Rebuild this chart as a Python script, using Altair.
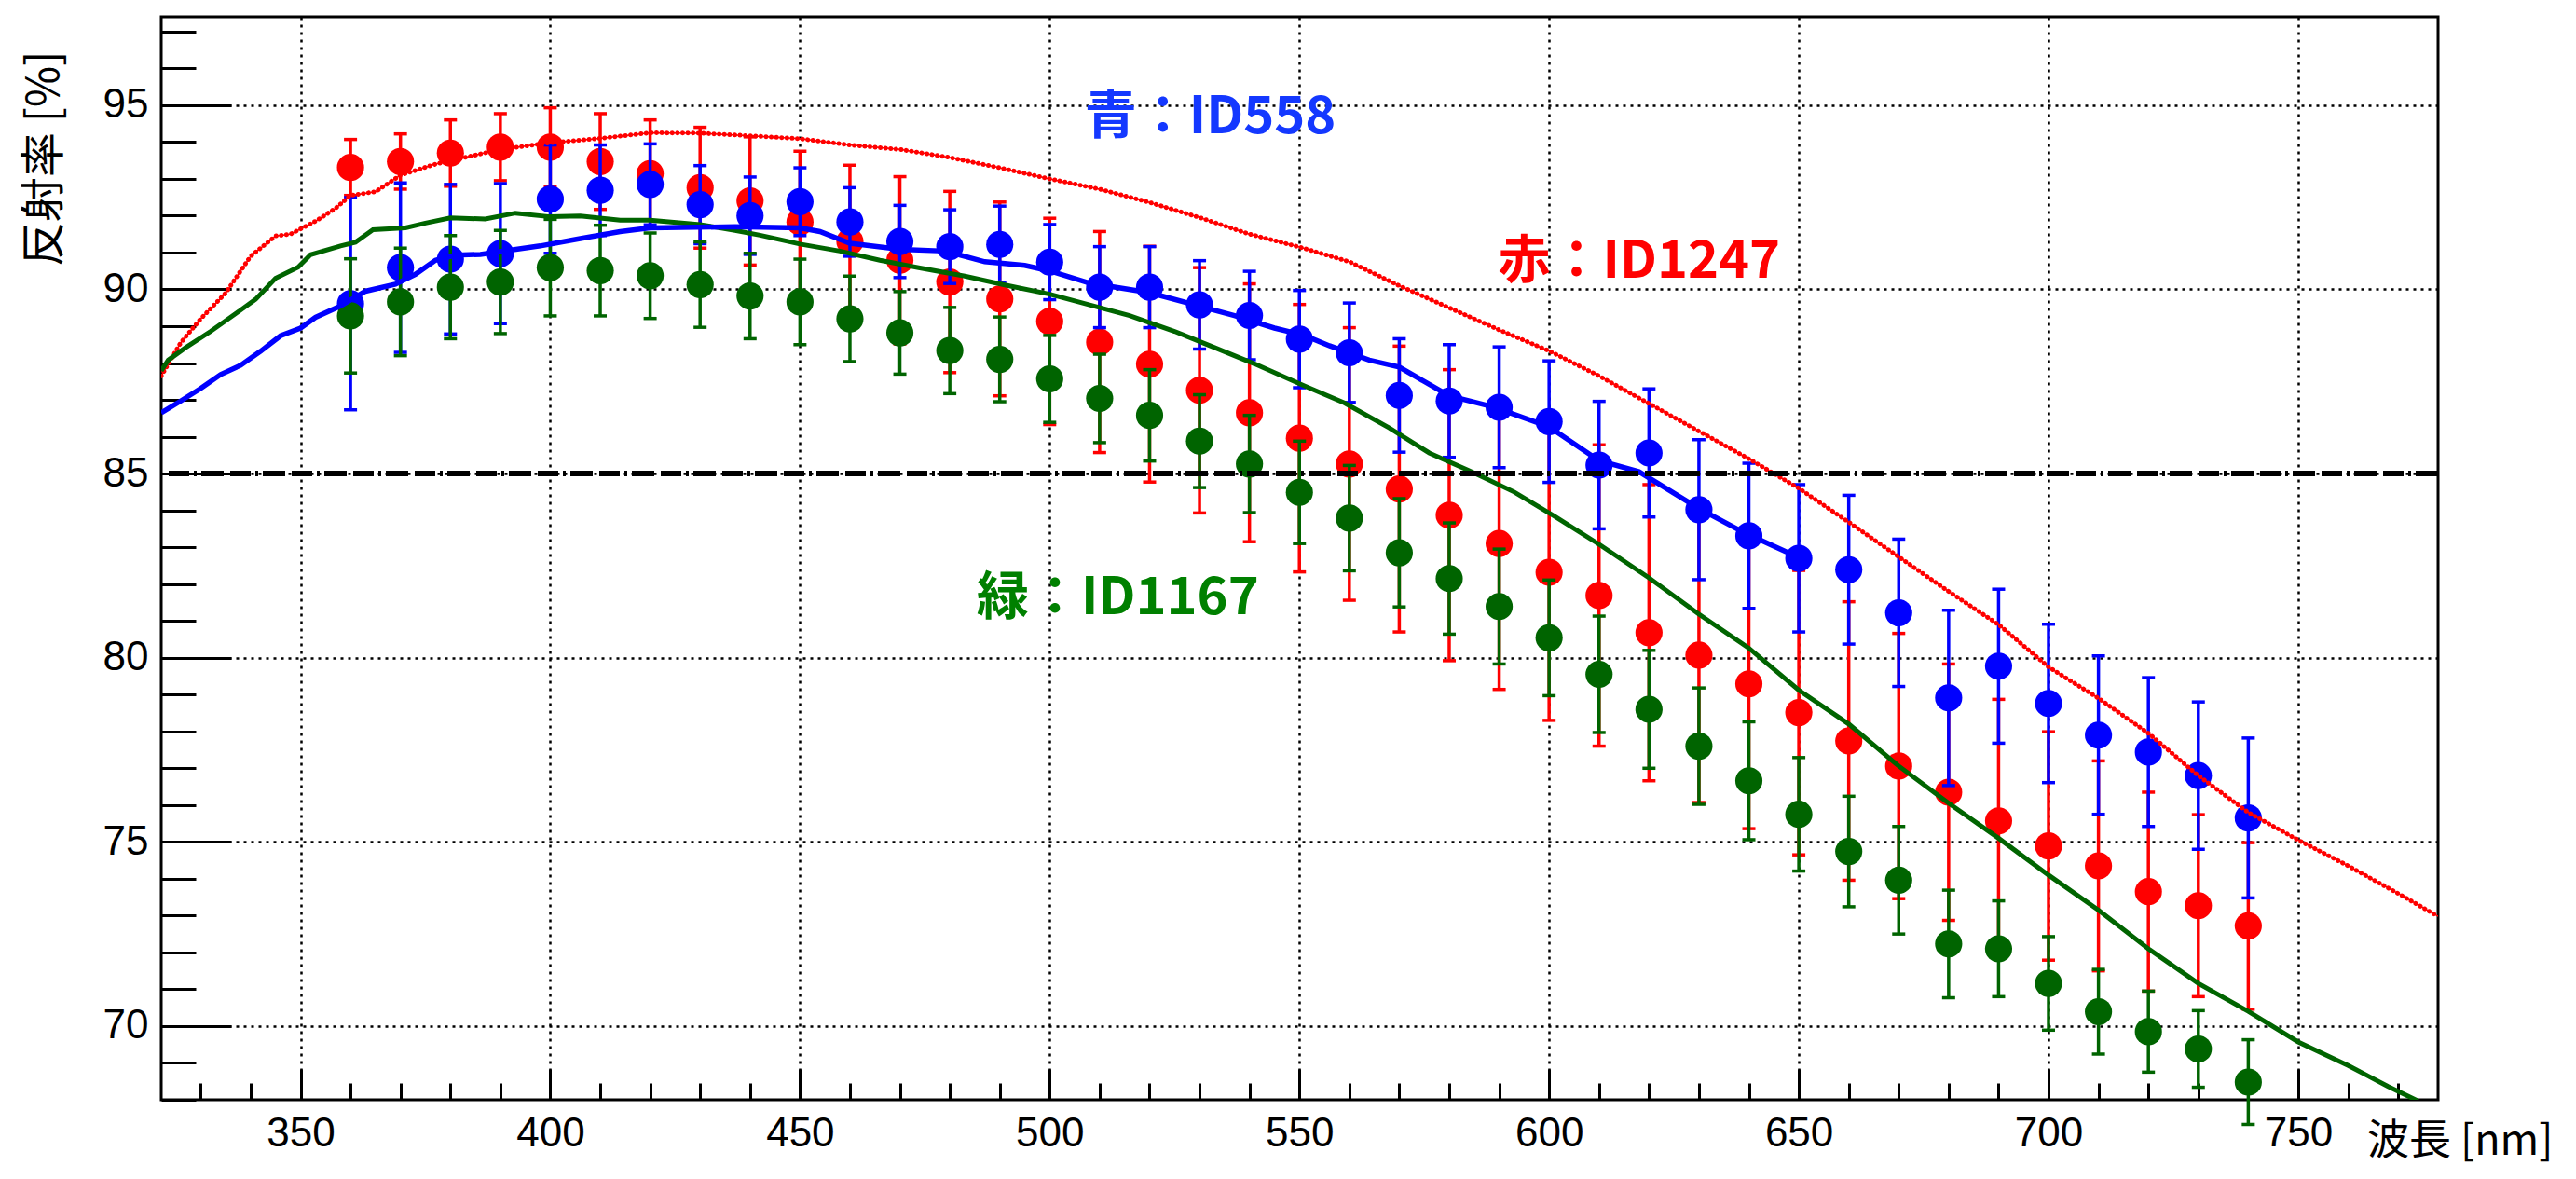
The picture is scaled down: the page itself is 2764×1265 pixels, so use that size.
import altair as alt
import pandas as pd

# ---------------- data ----------------
wavelength = list(range(360, 750, 10))

red_val = [93.31, 93.47, 93.70, 93.86, 93.86, 93.47, 93.14, 92.76, 92.40, 91.83,
           91.30, 90.79, 90.20, 89.74, 89.13, 88.57, 87.97, 87.26, 86.65, 85.96,
           85.26, 84.58, 83.87, 83.10, 82.32, 81.69, 80.68, 80.07, 79.29, 78.51,
           77.74, 77.06, 76.35, 75.57, 74.89, 74.35, 73.65, 73.27, 72.72]
red_err = [0.76, 0.75, 0.90, 0.91, 1.07, 1.30, 1.46, 1.64, 1.74, 1.92,
           2.07, 2.27, 2.46, 2.63, 2.80, 3.00, 3.20, 3.33, 3.50, 3.63,
           3.70, 3.88, 3.95, 3.96, 4.02, 4.09, 4.02, 4.00, 3.93, 3.86,
           3.78, 3.60, 3.48, 3.30, 3.10, 2.85, 2.70, 2.47, 2.26]

blue_val = [89.61, 90.59, 90.82, 90.97, 92.45, 92.69, 92.85, 92.30, 92.00, 92.38,
            91.83, 91.30, 91.16, 91.22, 90.74, 90.06, 90.06, 89.58, 89.29, 88.65,
            88.28, 87.12, 86.97, 86.80, 86.41, 85.23, 85.56, 84.02, 83.31, 82.70,
            82.39, 81.22, 78.91, 79.77, 78.76, 77.90, 77.44, 76.80, 75.65]
blue_err = [2.88, 2.30, 2.03, 1.90, 1.47, 1.23, 1.10, 1.06, 1.05, 0.92,
            0.93, 0.98, 1.00, 1.04, 1.02, 1.10, 1.10, 1.20, 1.20, 1.32,
            1.35, 1.54, 1.53, 1.64, 1.65, 1.73, 1.74, 1.90, 1.97, 2.00,
            2.02, 2.00, 2.38, 2.09, 2.15, 2.15, 2.02, 2.00, 2.17]

green_val = [89.28, 89.66, 90.06, 90.20, 90.59, 90.51, 90.37, 90.13, 89.82, 89.66,
             89.20, 88.82, 88.34, 88.10, 87.57, 87.04, 86.58, 85.88, 85.26, 84.49,
             83.79, 82.85, 82.15, 81.39, 80.54, 79.55, 78.60, 77.60, 76.66, 75.75,
             74.74, 73.96, 72.23, 72.10, 71.16, 70.39, 69.85, 69.38, 68.48]
green_err = [1.55, 1.46, 1.40, 1.40, 1.31, 1.23, 1.16, 1.16, 1.16, 1.16,
             1.16, 1.12, 1.17, 1.15, 1.18, 1.20, 1.24, 1.26, 1.32, 1.39,
             1.43, 1.47, 1.51, 1.56, 1.57, 1.58, 1.60, 1.58, 1.60, 1.54,
             1.50, 1.46, 1.46, 1.30, 1.27, 1.15, 1.10, 1.04, 1.15]

red_line_x = [322.1, 326, 330, 335, 340, 345, 348, 353, 357, 360, 365, 370, 377, 390, 400,
              410, 420, 430, 440, 450, 460, 470, 480, 490, 500, 510, 520, 530, 540, 550,
              560, 570, 580, 590, 600, 610, 620, 630, 640, 650, 660, 670, 680, 690, 700,
              710, 720, 730, 740, 750, 760, 770, 778]
red_line_y = [87.65, 88.55, 89.2, 89.9, 90.9, 91.45, 91.5, 91.85, 92.2, 92.55, 92.65, 93.1, 93.4, 93.8, 93.98,
              94.1, 94.25, 94.24, 94.17, 94.09, 93.92, 93.8, 93.58, 93.3, 93.0, 92.72, 92.36, 91.95, 91.5, 91.15,
              90.75, 90.1, 89.5, 88.9, 88.33, 87.65, 86.9, 86.15, 85.4, 84.6, 83.68, 82.74, 81.8, 80.9, 79.75,
              78.9, 77.95, 76.8, 75.8, 75.05, 74.35, 73.6, 72.98]

blue_line_x = [322.1, 326, 330, 334, 338, 342, 346, 350, 353, 358, 363, 369, 373, 377, 381,
               386, 398, 406, 414, 420, 437, 450, 454, 460, 470, 479, 487, 495, 500, 508,
               520, 529, 537, 545, 551, 556, 564, 570, 580, 589, 600, 610, 618, 630, 639, 650]
blue_line_y = [86.65, 86.97, 87.31, 87.69, 87.94, 88.32, 88.74, 88.95, 89.24, 89.55, 89.95, 90.14, 90.41, 90.79, 90.93,
               90.95, 91.18, 91.38, 91.57, 91.67, 91.7, 91.67, 91.57, 91.25, 91.09, 91.04, 90.75, 90.65, 90.5, 90.17,
               89.91, 89.58, 89.29, 88.95, 88.75, 88.47, 88.08, 87.89, 87.11, 86.8, 86.27, 85.35, 85.05, 84.05, 83.4, 82.72]

green_line_x = [322.1, 323.5, 327, 332, 337, 341, 345, 349.5, 352, 358, 361, 364.5, 371, 375, 380,
                387, 393, 400, 406, 414, 420, 430, 437, 442, 450, 458, 466, 474, 483, 491,
                500, 508, 516, 525, 533, 541, 551, 559, 568, 576, 584, 593, 601, 610, 620,
                630, 640, 650, 660, 670, 680, 690, 700, 710, 720, 730, 740, 750, 760, 768, 774]
green_line_y = [87.79, 88.08, 88.42, 88.86, 89.34, 89.73, 90.3, 90.6, 90.94, 91.18, 91.28, 91.62, 91.67, 91.8, 91.94,
                91.91, 92.07, 91.97, 91.99, 91.88, 91.88, 91.76, 91.6, 91.47, 91.23, 91.04, 90.79, 90.58, 90.36, 90.12,
                89.87, 89.58, 89.29, 88.86, 88.42, 87.98, 87.38, 86.92, 86.24, 85.56, 85.08, 84.5, 83.85, 83.08, 82.17,
                81.18, 80.26, 79.12, 78.2, 77.06, 76.05, 75.1, 74.1, 73.15, 72.1, 71.16, 70.4, 69.57, 68.93, 68.36, 67.97]

threshold = [85.0]

annot_text = ["青：ID558", "赤：ID1247", "緑：ID1167"]
annot_x = [507.0, 589.8, 485.4]
annot_y = [94.24, 90.31, 81.17]
annot_color = ["#1438FF", "#FF0000", "#008000"]

x_major = [350, 400, 450, 500, 550, 600, 650, 700, 750]
x_minor = list(range(330, 780, 10))
y_major = [70, 75, 80, 85, 90, 95]
y_minor = list(range(68, 98, 1))

# ---------------- chart ----------------
X_DOMAIN = [322.1, 778.0]
Y_DOMAIN = [68.0, 97.4]
W, H = 2443, 1162

RED, BLUE, GREEN = "#FF0000", "#0000FF", "#006400"

xs = alt.Scale(domain=X_DOMAIN, nice=False, zero=False)
ys = alt.Scale(domain=Y_DOMAIN, nice=False, zero=False)


def pts_df(val, err):
    return pd.DataFrame({
        "wl": wavelength,
        "v": val,
        "lo": [a - b for a, b in zip(val, err)],
        "hi": [a + b for a, b in zip(val, err)],
    })


red_df = pts_df(red_val, red_err)
blue_df = pts_df(blue_val, blue_err)
green_df = pts_df(green_val, green_err)

axis_x_main = alt.Axis(
    orient="bottom", values=x_major, grid=True, gridColor="black", gridDash=[3, 5],
    gridWidth=2.5, ticks=False, tickSize=0, domain=False, labelPadding=14,
    labelFont="Liberation Sans", labelFontSize=44, labelColor="black",
    labelOverlap=False, labelFlush=False,
    title="波長 [nm]", titleFont="Noto Sans CJK JP", titleFontSize=45,
    titleFontWeight="normal", titleColor="black", titleAlign="right",
    titleBaseline="alphabetic", titleX=2566, titleY=58, titleAngle=0,
)
axis_y_main = alt.Axis(
    orient="left", values=y_major, grid=True, gridColor="black", gridDash=[3, 5],
    gridWidth=2.5, ticks=False, tickSize=0, domain=False, labelPadding=14,
    labelFont="Liberation Sans", labelFontSize=44, labelColor="black",
    labelOverlap=False, labelFlush=False,
    title="反射率 [%]", titleFont="Noto Sans CJK JP", titleFontSize=48,
    titleFontWeight="normal", titleColor="black", titleAngle=270,
    titleAlign="right", titleBaseline="middle", titleX=-125, titleY=36,
)


def tick_axis(orient, offset, values, size):
    return alt.Axis(orient=orient, offset=offset, values=values, ticks=True,
                    tickSize=size, tickWidth=3, tickColor="black", labels=False,
                    domain=False, grid=False, title=None)


x_major_ticks = tick_axis("top", -H, x_major, 33)
x_minor_ticks = tick_axis("top", -H, x_minor, 18)
y_major_ticks = tick_axis("right", -W, y_major, 75)
y_minor_ticks = tick_axis("right", -W, y_minor, 37)


def series_layers(df, color, axes=None):
    ax = axes or [None] * 6
    bar = alt.Chart(df).mark_rule(color=color, strokeWidth=3.5).encode(
        x=alt.X("wl:Q", scale=xs, axis=ax[0]),
        y=alt.Y("lo:Q", scale=ys, axis=ax[1]),
        y2="hi:Q",
    )
    cap_lo = alt.Chart(df).mark_tick(orient="horizontal", color=color, size=14,
                                     thickness=3.5, opacity=1).encode(
        x=alt.X("wl:Q", scale=xs, axis=ax[2]),
        y=alt.Y("lo:Q", scale=ys, axis=ax[3]),
    )
    cap_hi = alt.Chart(df).mark_tick(orient="horizontal", color=color, size=14,
                                     thickness=3.5, opacity=1).encode(
        x=alt.X("wl:Q", scale=xs, axis=ax[4]),
        y=alt.Y("hi:Q", scale=ys, axis=ax[5]),
    )
    dots = alt.Chart(df).mark_circle(color=color, size=850, opacity=1).encode(
        x=alt.X("wl:Q", scale=xs, axis=None),
        y=alt.Y("v:Q", scale=ys, axis=None),
    )
    return [bar, cap_lo, cap_hi, dots]


layers = []
layers += series_layers(red_df, RED, [axis_x_main, axis_y_main,
                                      x_major_ticks, y_major_ticks,
                                      x_minor_ticks, y_minor_ticks])
layers += series_layers(blue_df, BLUE)
layers += series_layers(green_df, GREEN)

red_line_df = pd.DataFrame({"x": red_line_x, "y": red_line_y})
blue_line_df = pd.DataFrame({"x": blue_line_x, "y": blue_line_y})
green_line_df = pd.DataFrame({"x": green_line_x, "y": green_line_y})


def line(df, **kw):
    return alt.Chart(df).mark_line(clip=True, **kw).encode(
        x=alt.X("x:Q", scale=xs, axis=None),
        y=alt.Y("y:Q", scale=ys, axis=None),
        order="x:Q",
    )


layers.append(line(red_line_df, color=RED, strokeWidth=1.5))
layers.append(line(red_line_df, color=RED, strokeWidth=5, strokeDash=[0.1, 5.5],
                   strokeCap="round"))
layers.append(line(green_line_df, color=GREEN, strokeWidth=5))
layers.append(line(blue_line_df, color=BLUE, strokeWidth=5.5))

thr = alt.Chart(pd.DataFrame({"y": threshold})).mark_rule(
    color="black", strokeWidth=6, strokeDash=[24, 5, 3, 5, 22, 7]
).encode(y=alt.Y("y:Q", scale=ys, axis=None))
layers.append(thr)

annot_df = pd.DataFrame({"x": annot_x, "y": annot_y, "t": annot_text, "c": annot_color})
annot = alt.Chart(annot_df).mark_text(
    font="Noto Sans CJK JP", fontSize=56, fontWeight="bold", align="left",
    baseline="alphabetic"
).encode(
    x=alt.X("x:Q", scale=xs, axis=None),
    y=alt.Y("y:Q", scale=ys, axis=None),
    text="t:N",
    color=alt.Color("c:N", scale=None),
)
layers.append(annot)

chart = alt.layer(*layers).resolve_axis(x="independent", y="independent").properties(
    width=W, height=H,
    padding={"left": 165, "top": 10, "right": 138, "bottom": 77},
    autosize=alt.AutoSizeParams(type="none"),
    background="white",
).configure_view(stroke="black", strokeWidth=3)

chart.save("out.html", embed_options={"renderer": "svg", "actions": False})
